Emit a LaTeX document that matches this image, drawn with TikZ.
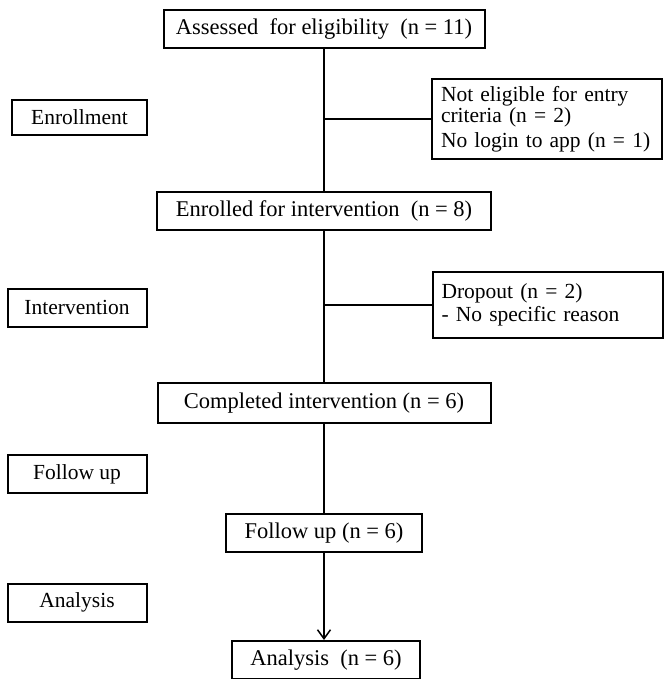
\documentclass[tikz,border=0pt]{standalone}
\usepackage{fontspec}
\setmainfont{Liberation Serif}
\usetikzlibrary{positioning,arrows.meta}

\begin{document}
\begin{tikzpicture}[
    x=1pt, y=-1pt,
    stage/.style={rectangle, draw, line width=2pt, minimum height=38pt, inner sep=0pt, align=center, font=\fontsize{22.5}{22.5}\selectfont},
    phase/.style={rectangle, draw, line width=2pt, minimum width=139pt, minimum height=38pt, inner sep=0pt, align=center, font=\fontsize{21.5}{21.5}\selectfont},
    excl/.style={rectangle, draw, line width=2pt, text width=212pt, inner xsep=9pt, inner ysep=0pt, align=left, font=\fontsize{21.5}{21}\selectfont},
    line/.style={line width=1.5pt}
]
\useasboundingbox (0,0) rectangle (665,679);

% Hauptpfad
\node[stage, minimum width=321pt] (assess) at (324,29) {Assessed\ \ for eligibility\ \ (n = 11)};
\node[stage, minimum width=334pt] (enrolled) at (324,211) {Enrolled for intervention\ \ (n = 8)};
\node[stage, minimum width=333pt, minimum height=40pt] (completed) at (324,403) {Completed intervention (n = 6)};
\node[stage, minimum width=196pt] (followed) at (324,533) {Follow up (n = 6)};
\node[stage, minimum width=188pt] (analysed) at (326,660) {Analysis\ \ (n = 6)};

% Ausschluesse
\node[excl, minimum height=80pt] (notelig) at (547,119) {Not eligible for entry\\criteria (n = 2)\\[4pt]No login to app (n = 1)};
\node[excl, minimum height=66pt] (dropout) at (547.5,305) {Dropout (n = 2)\\[2pt]- No specific reason};

% Phasen links
\node[phase, minimum width=135pt, minimum height=35pt] (enroll) at (79.5,117.5) {Enrollment};
\node[phase] (interv) at (77,307.5) {Intervention};
\node[phase] (follow) at (77,474) {Follow up};
\node[phase] (analys) at (77,602.5) {Analysis};

% Verbindungen
\draw[line] (assess) -- (enrolled);
\draw[line] (enrolled) -- (completed);
\draw[line] (completed) -- (followed);
\draw[line, -{Straight Barb[length=9pt, width=13pt]}] (followed) -- (followed |- analysed.north);

\draw[line] (notelig.west) -- (notelig.west -| assess.south);
\draw[line] (dropout.west) -- (dropout.west -| enrolled.south);

\end{tikzpicture}
\end{document}
